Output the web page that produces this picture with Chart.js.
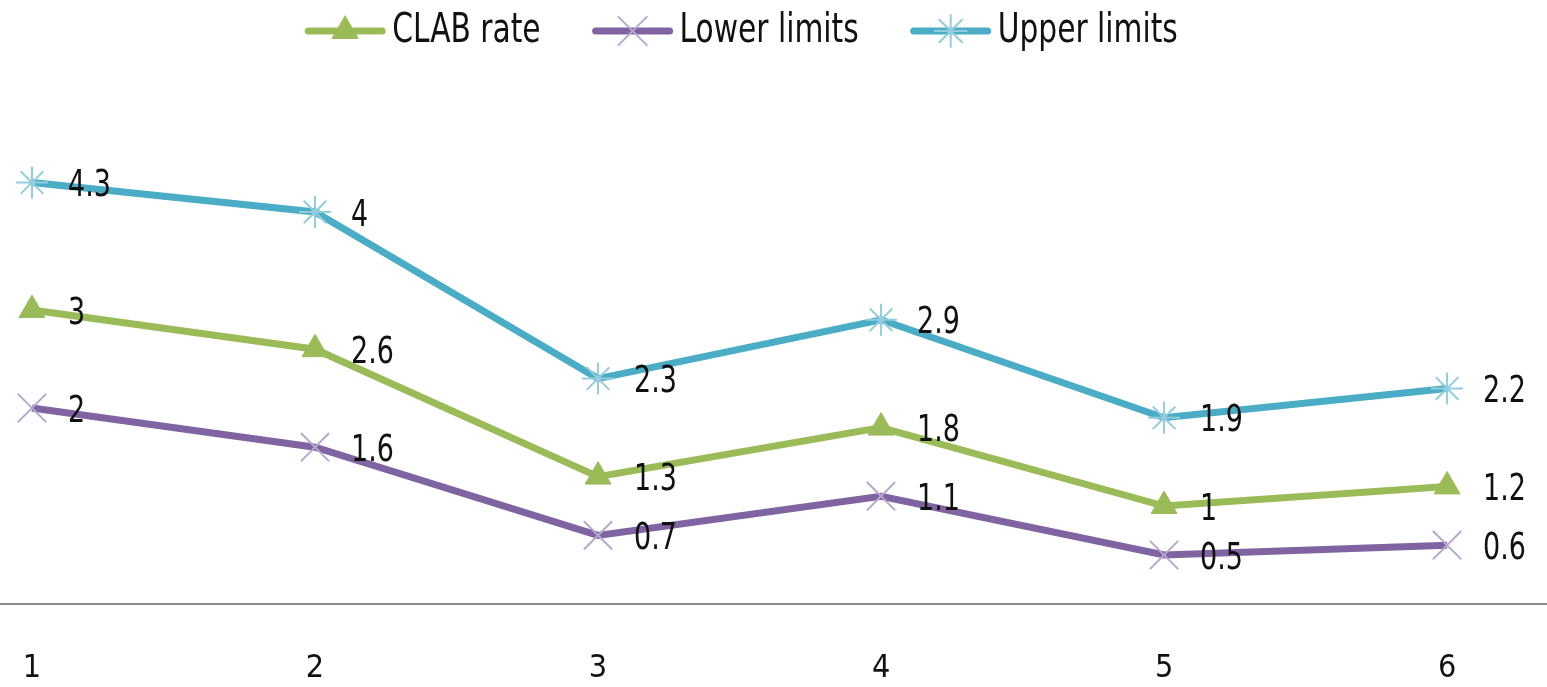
<!DOCTYPE html>
<html>
<head>
<meta charset="utf-8">
<script src="https://cdn.jsdelivr.net/npm/chart.js@4"></script>
<style>
  html, body { margin: 0; padding: 0; background: #fff; }
  #wrap { width: 1547px; height: 687px; }
</style>
</head>
<body>
<div id="wrap"><canvas id="chart"></canvas></div>
<script>
const categories = [1, 2, 3, 4, 5, 6];
const clabRate = [3, 2.6, 1.3, 1.8, 1, 1.2];
const lowerLimits = [2, 1.6, 0.7, 1.1, 0.5, 0.6];
const upperLimits = [4.3, 4, 2.3, 2.9, 1.9, 2.2];

const FONT = '"DejaVu Sans Condensed", "DejaVu Sans", sans-serif';

function toPoints(values) {
    return values.map((v, i) => ({ x: categories[i], y: v }));
}

// text drawn a bit taller than wide, like the narrow font of the original
function tallText(ctx, text, x, y, stretch) {
    ctx.save();
    ctx.translate(x, y);
    ctx.scale(1, stretch);
    ctx.fillText(text, 0, 0);
    ctx.restore();
}

function marker(ctx, ds, x, y) {
    ctx.save();
    ctx.fillStyle = ds.pointBackgroundColor;
    ctx.strokeStyle = ds.pointBorderColor;
    ctx.lineWidth = ds.pointBorderWidth;
    Chart.helpers.drawPoint(ctx, {
        pointStyle: ds.pointStyle,
        radius: ds.pointRadius,
        borderWidth: ds.pointBorderWidth
    }, x, y);
    ctx.restore();
}

// value labels to the right of each point
const valueLabels = {
    id: 'valueLabels',
    afterDatasetsDraw(chart) {
        const ctx = chart.ctx;
        ctx.save();
        ctx.font = '30px ' + FONT;
        ctx.fillStyle = '#111';
        ctx.textAlign = 'left';
        ctx.textBaseline = 'middle';
        chart.data.datasets.forEach((ds, di) => {
            chart.getDatasetMeta(di).data.forEach((pt, i) => {
                tallText(ctx, String(ds.data[i].y), pt.x + 36, pt.y + 4, 1.22);
            });
        });
        ctx.restore();
    }
};

// legend: line with the marker in its middle, then the name
const lineLegend = {
    id: 'lineLegend',
    afterDraw(chart) {
        const ctx = chart.ctx;
        const lineW = 80, gapText = 7, gapItem = 52, cy = 31;
        ctx.save();
        ctx.font = '33px ' + FONT;
        ctx.textAlign = 'left';
        ctx.textBaseline = 'middle';
        const items = chart.data.datasets.map(ds => ({ ds, w: ctx.measureText(ds.label).width }));
        let total = 0;
        items.forEach((it, i) => { total += lineW + gapText + it.w + (i ? gapItem : 0); });
        let x = (chart.width - total) / 2 - 32;
        items.forEach(it => {
            ctx.strokeStyle = it.ds.borderColor;
            ctx.lineWidth = 7;
            ctx.lineCap = 'round';
            ctx.beginPath();
            ctx.moveTo(x + 3, cy);
            ctx.lineTo(x + lineW - 3, cy);
            ctx.stroke();
            marker(ctx, it.ds, x + lineW / 2, cy);
            ctx.fillStyle = '#111';
            tallText(ctx, it.ds.label, x + lineW + gapText, cy, 1.25);
            x += lineW + gapText + it.w + gapItem;
        });
        ctx.restore();
    }
};

new Chart(document.getElementById('chart').getContext('2d'), {
    type: 'line',
    data: {
        datasets: [{
            label: 'CLAB rate',
            data: toPoints(clabRate),
            borderColor: '#9BBB59',
            backgroundColor: '#9BBB59',
            borderWidth: 7,
            pointStyle: 'triangle',
            pointRadius: 15,
            pointBackgroundColor: '#9BBB59',
            pointBorderColor: '#9BBB59',
            pointBorderWidth: 1
        }, {
            label: 'Lower limits',
            data: toPoints(lowerLimits),
            borderColor: '#8064A2',
            backgroundColor: '#8064A2',
            borderWidth: 7,
            pointStyle: 'crossRot',
            pointRadius: 20,
            pointBackgroundColor: '#B7A8CC',
            pointBorderColor: '#B7A8CC',
            pointBorderWidth: 2
        }, {
            label: 'Upper limits',
            data: toPoints(upperLimits),
            borderColor: '#4BACC6',
            backgroundColor: '#4BACC6',
            borderWidth: 7,
            pointStyle: 'star',
            pointRadius: 16,
            pointBackgroundColor: '#93CDDD',
            pointBorderColor: '#93CDDD',
            pointBorderWidth: 2
        }]
    },
    options: {
        responsive: true,
        maintainAspectRatio: false,
        animation: false,
        layout: { autoPadding: false, padding: { top: 114, left: 0, right: 0, bottom: 0 } },
        plugins: {
            tooltip: { enabled: false },
            legend: { display: false }
        },
        scales: {
            x: {
                type: 'linear',
                min: 0.887,
                max: 6.353,
                afterBuildTicks(scale) {
                    scale.ticks = categories.map(v => ({ value: v }));
                },
                afterFit(scale) {
                    scale.height = 83;
                    scale.paddingLeft = 0;
                    scale.paddingRight = 0;
                },
                grid: { display: false, drawTicks: false },
                border: { display: true, color: '#8c8c8c', width: 2 },
                ticks: {
                    padding: 45,
                    color: '#111',
                    font: { size: 32, family: FONT }
                }
            },
            y: {
                display: false,
                min: 0,
                max: 5
            }
        }
    },
    plugins: [valueLabels, lineLegend]
});
</script>
</body>
</html>
